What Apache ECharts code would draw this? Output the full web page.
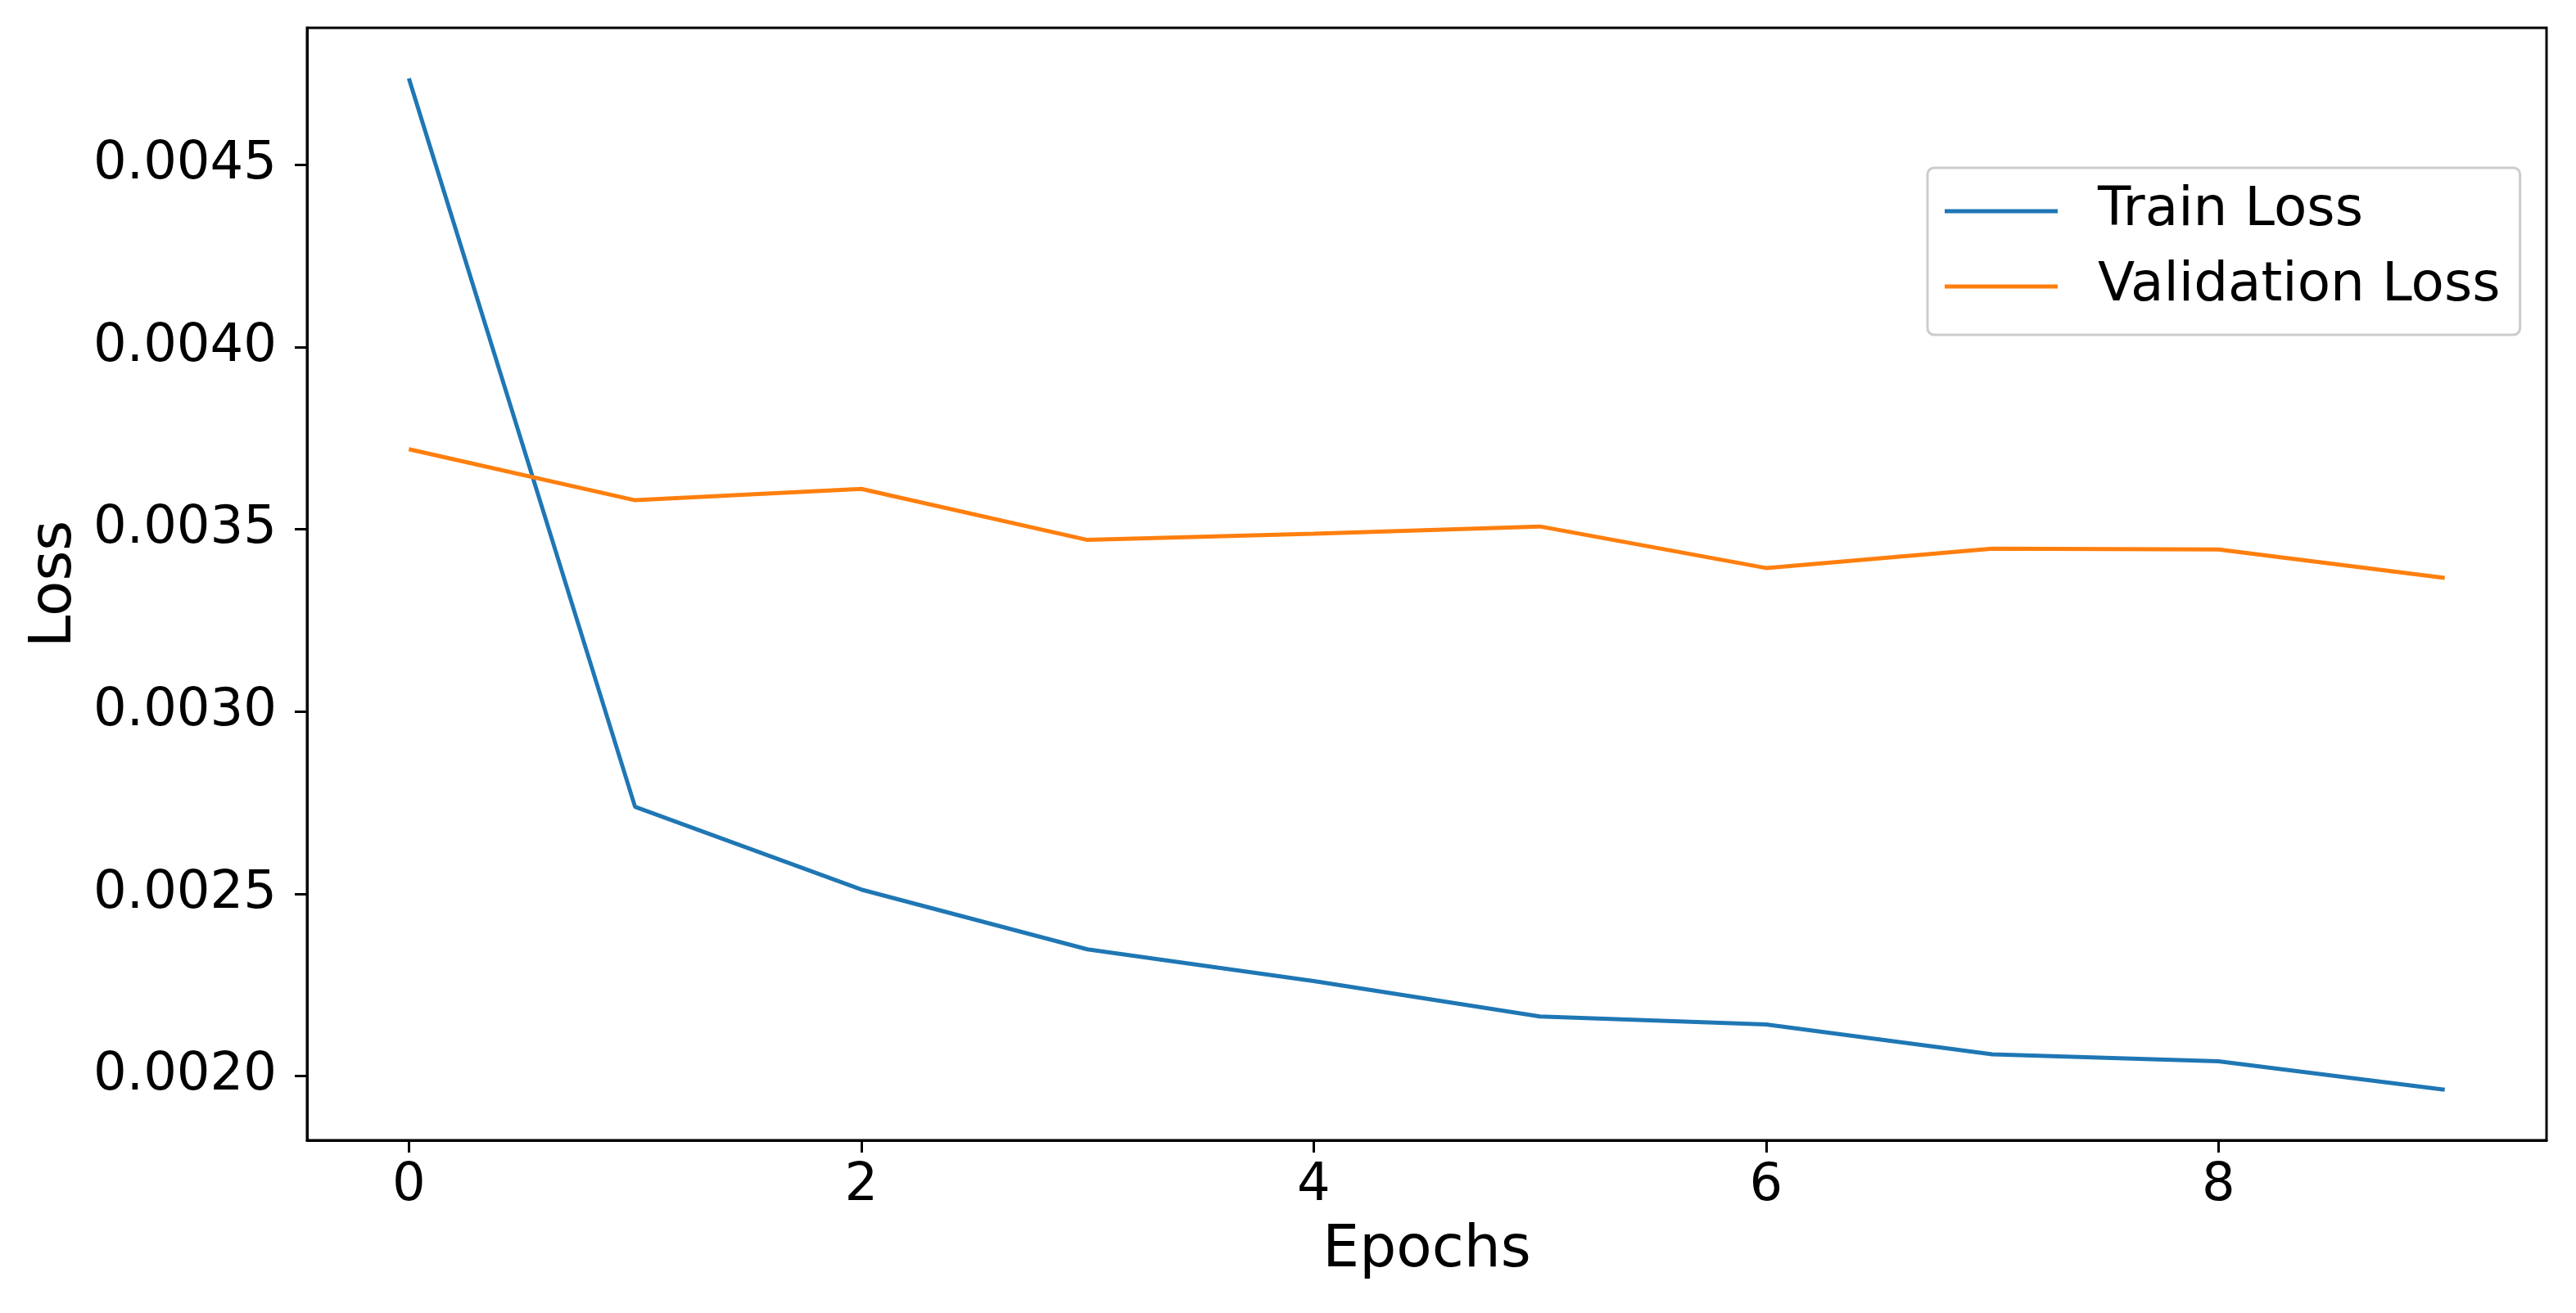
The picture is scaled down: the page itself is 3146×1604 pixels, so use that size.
<!DOCTYPE html>
<html>
<head>
<meta charset="utf-8">
<script src="https://cdn.jsdelivr.net/npm/echarts@6/dist/echarts.min.js"></script>
<style>
html,body{margin:0;padding:0;background:#fff;}
#chart{width:3146px;height:1604px;}
</style>
</head>
<body>
<div id="chart"></div>
<script>
const epochs = [0, 1, 2, 3, 4, 5, 6, 7, 8, 9];
const trainLoss = [0.004737, 0.002739, 0.002512, 0.002348, 0.002261, 0.002164, 0.002142, 0.002060, 0.002041, 0.001963];
const valLoss = [0.003720, 0.003580, 0.003611, 0.003471, 0.003488, 0.003508, 0.003394, 0.003447, 0.003445, 0.003367];
const xTicks = [0, 2, 4, 6, 8];
const yTicks = [0.0020, 0.0025, 0.0030, 0.0035, 0.0040, 0.0045];

const FONT = 'DejaVu Sans';
const allY = trainLoss.concat(valLoss);
const yLo = Math.min.apply(null, allY), yHi = Math.max.apply(null, allY);
const yPad = (yHi - yLo) * 0.05;
const xLo = Math.min.apply(null, epochs), xHi = Math.max.apply(null, epochs);
const xPad = (xHi - xLo) * 0.05;

const chart = echarts.init(document.getElementById('chart'), null, {renderer: 'canvas'});
chart.setOption({
  animation: false,
  backgroundColor: '#ffffff',
  grid: {left: 375, right: 36, top: 34, bottom: 211, show: true, borderColor: '#000', borderWidth: 3, backgroundColor: 'transparent'},
  legend: {
    orient: 'vertical',
    left: 2354, top: 205,
    padding: [20, 24, 26, 21],
    itemGap: 26,
    itemWidth: 138, itemHeight: 5,
    icon: 'rect',
    backgroundColor: 'rgba(255,255,255,0.8)',
    borderColor: '#cccccc', borderWidth: 3, borderRadius: 8,
    textStyle: {fontFamily: FONT, fontSize: 66, color: '#000', lineHeight: 66, padding: [0, 0, 0, 44]},
    data: ['Train Loss', 'Validation Loss']
  },
  xAxis: {
    type: 'value', min: xLo - xPad, max: xHi + xPad,
    name: 'Epochs', nameLocation: 'middle', nameGap: 100,
    nameTextStyle: {fontFamily: FONT, fontSize: 71, color: '#000'},
    axisLine: {show: true, onZero: false, lineStyle: {color: '#000', width: 3}},
    axisTick: {show: true, length: 15, lineStyle: {color: '#000', width: 3}, customValues: xTicks},
    axisLabel: {fontFamily: FONT, fontSize: 64, color: '#000', margin: 24, customValues: xTicks, formatter: v => String(v)},
    splitLine: {show: false}
  },
  yAxis: {
    type: 'value', min: yLo - yPad, max: yHi + yPad,
    name: 'Loss', nameLocation: 'middle', nameGap: 268,
    nameTextStyle: {fontFamily: FONT, fontSize: 71, color: '#000'},
    axisLine: {show: true, onZero: false, lineStyle: {color: '#000', width: 3}},
    axisTick: {show: true, length: 15, lineStyle: {color: '#000', width: 3}, customValues: yTicks},
    axisLabel: {fontFamily: FONT, fontSize: 64, color: '#000', margin: 37, customValues: yTicks, formatter: v => v.toFixed(4)},
    splitLine: {show: false}
  },
  series: [
    {name: 'Train Loss', type: 'line', data: epochs.map((e, i) => [e, trainLoss[i]]), showSymbol: false, symbol: 'none',
     lineStyle: {color: '#1f77b4', width: 5}, itemStyle: {color: '#1f77b4'}},
    {name: 'Validation Loss', type: 'line', data: epochs.map((e, i) => [e, valLoss[i]]), showSymbol: false, symbol: 'none',
     lineStyle: {color: '#ff7f0e', width: 5}, itemStyle: {color: '#ff7f0e'}}
  ]
});
</script>
</body>
</html>
